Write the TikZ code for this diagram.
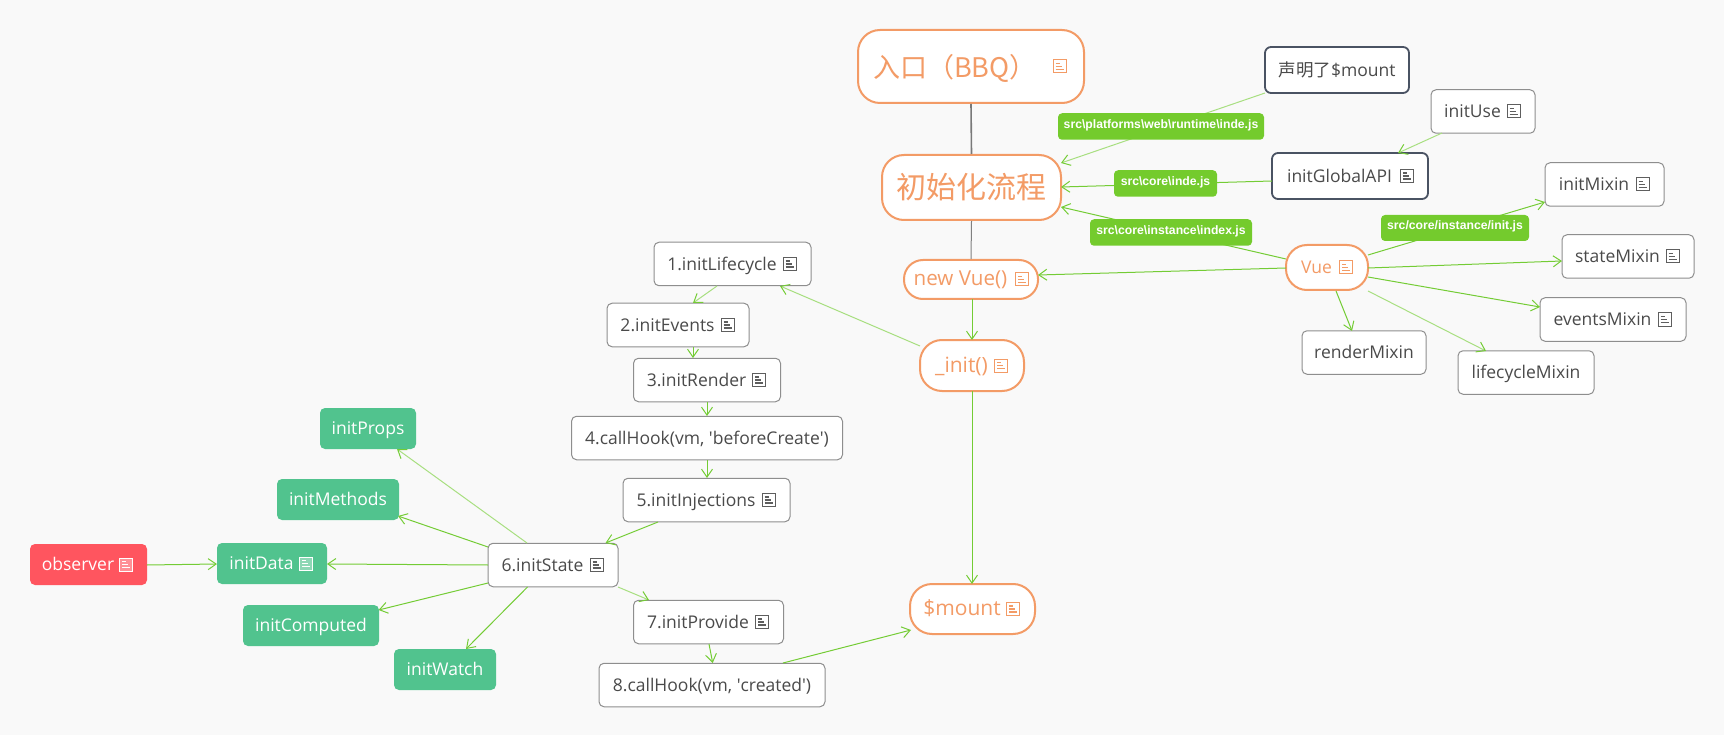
\documentclass[tikz,border=0pt]{standalone}
\usepackage{fontspec}
\usetikzlibrary{arrows.meta,positioning}
\setmainfont{Open Sans}
\newfontfamily\cjk{Noto Sans CJK SC}
\newfontfamily\lab{Liberation Sans}[BoldFont={Liberation Sans Bold}]
\definecolor{pagebg}{HTML}{F9F9F9}
\definecolor{orng}{HTML}{F39B66}
\definecolor{ink}{HTML}{4A4A4A}
\definecolor{iconink}{HTML}{5E5E5E}
\definecolor{gborder}{HTML}{8E8E8E}
\definecolor{dborder}{HTML}{4A5363}
\definecolor{lgreen}{HTML}{74CB2D}
\definecolor{ngreen}{HTML}{51C38E}
\definecolor{nred}{HTML}{FF555F}
\definecolor{edark}{HTML}{74CC35}
\definecolor{elight}{HTML}{A8DF80}
\newcommand\iconsp{\hspace*{21pt}}
\newcommand\fs[1]{\fontsize{#1}{#1}\selectfont}
\newcommand\E[7][edark]{\draw[link,#1] ([shift={(#3,#4)}]#2.center) -- ([shift={(#6,#7)}]#5.center);}
\newcommand\ic[3]{\pic at ([xshift=-#2pt]#1.east) {noteicon=#3};}
\tikzset{
  x=1pt,y=-1pt,
  pics/noteicon/.style={code={
    \draw[#1,line width=1pt,fill=white,fill opacity=.35] (-6.5,-6.5) rectangle (6.5,6.5);
    \draw[#1,line width=1.1pt] (-4,-3) -- (0,-3) (-4,0) -- (2,0) (-4,3) -- (4,3);
  }},
  link/.style={line width=1pt,-{Straight Barb[length=8pt,width=11pt,color=edark]}},
  lightlink/.style={elight},
  base/.style={rounded corners=#1,inner sep=0pt,text=ink,font=\fs{17.5},text height=12.5pt,text depth=0pt},
  plainbox/.style={base=5pt,draw=gborder,fill=white,line width=1pt,minimum height=43.5pt},
  darkbox/.style={base=6pt,draw=dborder,fill=white,line width=1.8pt,minimum height=46pt},
  topic/.style={base=#1,draw=orng,fill=white,line width=2pt,text=orng},
  greenbox/.style={base=5pt,fill=ngreen,text=white,minimum height=41pt},
  redbox/.style={base=5pt,fill=nred,text=white,minimum height=41pt},
  tag/.style={rounded corners=4pt,fill=lgreen,text=white,inner sep=0pt,minimum height=26.5pt,
    font=\lab\bfseries\fs{12.2},text height=6pt,text depth=2pt},
}
\begin{document}
\begin{tikzpicture}
\useasboundingbox[fill=pagebg] (0,0) rectangle (1724,735);
% topics
\node[topic=22pt,minimum width=226pt,minimum height=73pt,font=\cjk\fs{27},text height=23pt] (root) at (971,66.5) {入口（BBQ）\hspace*{32pt}};
\node[topic=22pt,minimum width=179pt,minimum height=65pt,font=\cjk\fs{30},text height=23pt,text depth=0pt] (flow) at (971.5,187.5) {初始化流程};
\node[topic=19pt,minimum width=134pt,minimum height=39pt,font=\fs{20.6},text height=13pt] (newvue) at (971,279.5) {new Vue()\iconsp};
\node[topic=22pt,minimum width=104pt,minimum height=51pt,font=\fs{21},text height=14pt] (initf) at (972,365.5) {\_init()\iconsp};
\node[topic=22pt,minimum width=125pt,minimum height=50pt,font=\fs{21},text height=13pt] (mnt) at (972.5,609) {\$mount\iconsp};
\node[topic=21pt,minimum width=82pt,minimum height=45pt,font=\fs{17.5},text height=13pt] (vue) at (1327,267.5) {Vue\iconsp};
% right branch
\node[darkbox,minimum width=144pt] (decl) at (1337,70) {{\cjk 声明了}\$mount};
\node[plainbox,minimum width=104pt] (use) at (1483,111.5) {initUse\iconsp};
\node[darkbox,minimum width=156pt] (gapi) at (1350,176) {initGlobalAPI\iconsp};
\node[plainbox,minimum width=119pt] (imix) at (1604.5,184.5) {initMixin\iconsp};
\node[plainbox,minimum width=132pt] (smix) at (1628,256.5) {stateMixin\iconsp};
\node[plainbox,minimum width=146pt] (emix) at (1613,319.5) {eventsMixin\iconsp};
\node[plainbox,minimum width=136pt] (lmix) at (1526,372.5) {lifecycleMixin};
\node[plainbox,minimum width=124pt] (rmix) at (1364,352.5) {renderMixin};
% middle column
\node[plainbox,minimum width=157pt] (n1) at (732.5,264) {1.initLifecycle\iconsp};
\node[plainbox,minimum width=142pt] (n2) at (678,325) {2.initEvents\iconsp};
\node[plainbox,minimum width=147pt] (n3) at (707,380) {3.initRender\iconsp};
\node[plainbox,minimum width=271pt] (n4) at (707,438) {4.callHook(vm, \textquotesingle beforeCreate\textquotesingle)};
\node[plainbox,minimum width=167pt] (n5) at (706.5,500) {5.initInjections\iconsp};
\node[plainbox,minimum width=130pt] (n6) at (553,565) {6.initState\iconsp};
\node[plainbox,minimum width=150pt] (n7) at (708.5,622) {7.initProvide\iconsp};
\node[plainbox,minimum width=226pt] (n8) at (712,685) {8.callHook(vm, \textquotesingle created\textquotesingle)};
% left cluster
\node[greenbox,minimum width=96pt] (props) at (368,428.5) {initProps};
\node[greenbox,minimum width=122pt] (meth) at (338,499.5) {initMethods};
\node[greenbox,minimum width=110pt] (data) at (272,563.5) {initData\iconsp};
\node[redbox,minimum width=117pt] (obs) at (88.5,564.5) {observer\iconsp};
\node[greenbox,minimum width=136pt] (comp) at (311,625.5) {initComputed};
\node[greenbox,minimum width=102pt] (watch) at (445,669.5) {initWatch};
% icons
\ic{root}{25.5}{orng}\ic{newvue}{17}{orng}\ic{initf}{24}{orng}\ic{mnt}{23}{orng}\ic{vue}{23}{orng}
\ic{use}{22}{iconink}\ic{gapi}{22}{iconink}\ic{imix}{22}{iconink}\ic{smix}{22}{iconink}\ic{emix}{22}{iconink}
\ic{n1}{22}{iconink}\ic{n2}{22}{iconink}\ic{n3}{22}{iconink}\ic{n5}{22}{iconink}\ic{n6}{22}{iconink}\ic{n7}{22}{iconink}
\ic{data}{21}{white}\ic{obs}{21}{white}
% plain lines
\draw[line width=1.6pt,draw=gray!95!black] (root.south) -- (flow.north);
\draw[line width=1pt,draw=gray] (flow.south) -- (newvue.north);
% connectors
\E[lightlink]{decl}{-72}{23}{flow}{89.5}{-24.5}
\E{gapi}{-78}{5}{flow}{89.5}{-0.5}
\E{vue}{-41}{-8.5}{flow}{89.5}{19.5}
\E{vue}{-41}{0.5}{newvue}{67}{-4.5}
\E[lightlink]{use}{-41}{21.5}{gapi}{48}{-23}
\E{vue}{41}{-12.5}{imix}{-59.5}{17.5}
\E{vue}{41}{0.5}{smix}{-66}{4.5}
\E{vue}{41}{9.5}{emix}{-73}{-12.5}
\E[lightlink]{vue}{41}{23.5}{lmix}{-40}{-21.5}
\E{vue}{9}{23.5}{rmix}{-12}{-21.5}
\E{newvue}{1}{19.5}{initf}{0}{-25.5}
\E[lightlink]{initf}{-52}{-19.5}{n1}{47.5}{22}
\E{initf}{0}{25.5}{mnt}{-0.5}{-25}
\E[lightlink]{n1}{-15.5}{22}{n2}{15}{-22}
\E{n2}{15}{22}{n3}{-14}{-22}
\E{n3}{0}{22}{n4}{0}{-22}
\E{n4}{0}{22}{n5}{0.5}{-22}
\E{n5}{-48.5}{22}{n6}{52.5}{-22}
\E[lightlink]{n6}{65}{22}{n7}{-59.5}{-22}
\E{n7}{0.5}{22}{n8}{0.7}{-22}
\E{n8}{71}{-22}{mnt}{-61.5}{21}
\E[lightlink]{n6}{-26}{-22}{props}{29}{20.5}
\E{n6}{-65}{-18}{meth}{60}{16.5}
\E{n6}{-65}{0}{data}{55}{0.5}
\E{n6}{-65}{18}{comp}{67.6}{-15.5}
\E{n6}{-25.5}{22}{watch}{21}{-20.5}
\E{obs}{58.5}{0.5}{data}{-55}{0.5}
% edge tags
\node[tag,minimum width=206pt] (tp) at (1161,126.5) {src\textbackslash platforms\textbackslash web\textbackslash runtime\textbackslash inde.js};
\node[tag,minimum width=103pt] (tc) at (1165.5,183.5) {src\textbackslash core\textbackslash inde.js};
\node[tag,minimum width=162pt] (ti) at (1171,232.5) {src\textbackslash core\textbackslash instance\textbackslash index.js};
\node[tag,minimum width=148pt,minimum height=26pt] (tm) at (1455,228) {src/core/instance/init.js};
\end{tikzpicture}
\end{document}
